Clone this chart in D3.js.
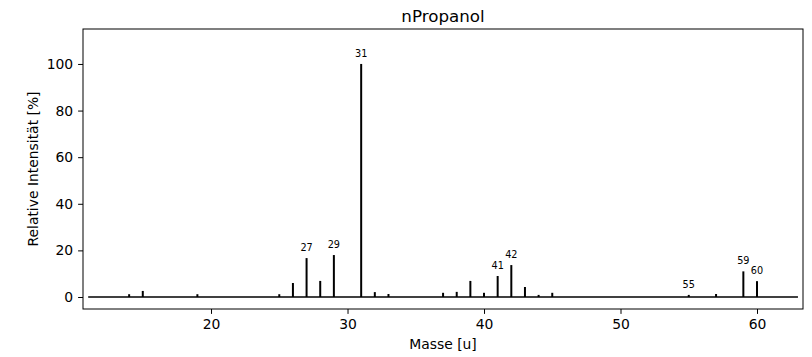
<!DOCTYPE html>
<html><head><meta charset="utf-8">
<script src="https://cdn.jsdelivr.net/npm/d3@7"></script>
<style>body{margin:0;background:#fff;}text{font-family:"DejaVu Sans",sans-serif;}</style>
</head><body><div id="chart"></div>
<script>
const masses      = [14, 15, 19, 25, 26, 27, 28, 29, 31, 32, 33, 37, 38, 39, 40, 41, 42, 43, 44, 45, 55, 57, 59, 60];
const intensities = [1.2, 2.6, 1.2, 1.2, 6.0, 16.7, 6.9, 18.0, 100, 2.1, 1.3, 1.8, 2.2, 6.9, 1.8, 9.0, 13.7, 4.3, 0.9, 1.8, 0.9, 1.3, 11.0, 6.8];
const labeledMasses = [27, 29, 31, 41, 42, 55, 59, 60];
const xTicks = [20, 30, 40, 50, 60];
const yTicks = [0, 20, 40, 60, 80, 100];
const baselineRange = [11, 63];

const W = 812, H = 357;
const m = {left: 83, right: 9, top: 29, bottom: 48};
const svg = d3.select("#chart").append("svg").attr("width", W).attr("height", H);
const x = d3.scaleLinear().domain([10.62, 63.37]).range([m.left, W - m.right]);
const y = d3.scaleLinear().domain([-5.15, 115]).range([H - m.bottom, m.top]);

// baseline
svg.append("line").attr("x1", x(baselineRange[0])).attr("x2", x(baselineRange[1]))
  .attr("y1", y(0)).attr("y2", y(0)).attr("stroke", "#000").attr("stroke-width", 1.3);

// stems
svg.selectAll("line.stem").data(masses).enter().append("line").attr("class", "stem")
  .attr("x1", d => x(d)).attr("x2", d => x(d))
  .attr("y1", y(0)).attr("y2", (d, i) => y(intensities[i]))
  .attr("stroke", "#000").attr("stroke-width", 2);

// labels
masses.forEach((d, i) => {
  if (labeledMasses.includes(d)) {
    svg.append("text").attr("x", x(d)).attr("y", y(intensities[i]) - 7)
      .attr("text-anchor", "middle").attr("font-size", "9.7px").attr("fill", "#000").text(d);
  }
});

// axes
const xAxis = svg.append("g").attr("transform", `translate(0,${H - m.bottom})`)
  .call(d3.axisBottom(x).tickValues(xTicks).tickSize(4.9).tickPadding(4.9));
const yAxis = svg.append("g").attr("transform", `translate(${m.left},0)`)
  .call(d3.axisLeft(y).tickValues(yTicks).tickSize(4.9).tickPadding(4.9));
[xAxis, yAxis].forEach(g => {
  g.select(".domain").remove();
  g.selectAll("text").attr("font-size", "13.9px").attr("font-family", "DejaVu Sans").attr("fill", "#000");
  g.selectAll("line").attr("stroke", "#000").attr("stroke-width", 1);
});

// frame
svg.append("rect").attr("x", m.left).attr("y", m.top)
  .attr("width", W - m.right - m.left).attr("height", H - m.bottom - m.top)
  .attr("fill", "none").attr("stroke", "#000").attr("stroke-width", 1);

// titles
svg.append("text").attr("x", (m.left + W - m.right) / 2).attr("y", 22)
  .attr("text-anchor", "middle").attr("font-size", "16.7px").text("nPropanol");
svg.append("text").attr("x", (m.left + W - m.right) / 2).attr("y", 349)
  .attr("text-anchor", "middle").attr("font-size", "13.9px").text("Masse [u]");
svg.append("text").attr("transform", `translate(38,${(m.top + H - m.bottom) / 2}) rotate(-90)`)
  .attr("text-anchor", "middle").attr("font-size", "13.9px").text("Relative Intensität [%]");
</script></body></html>
